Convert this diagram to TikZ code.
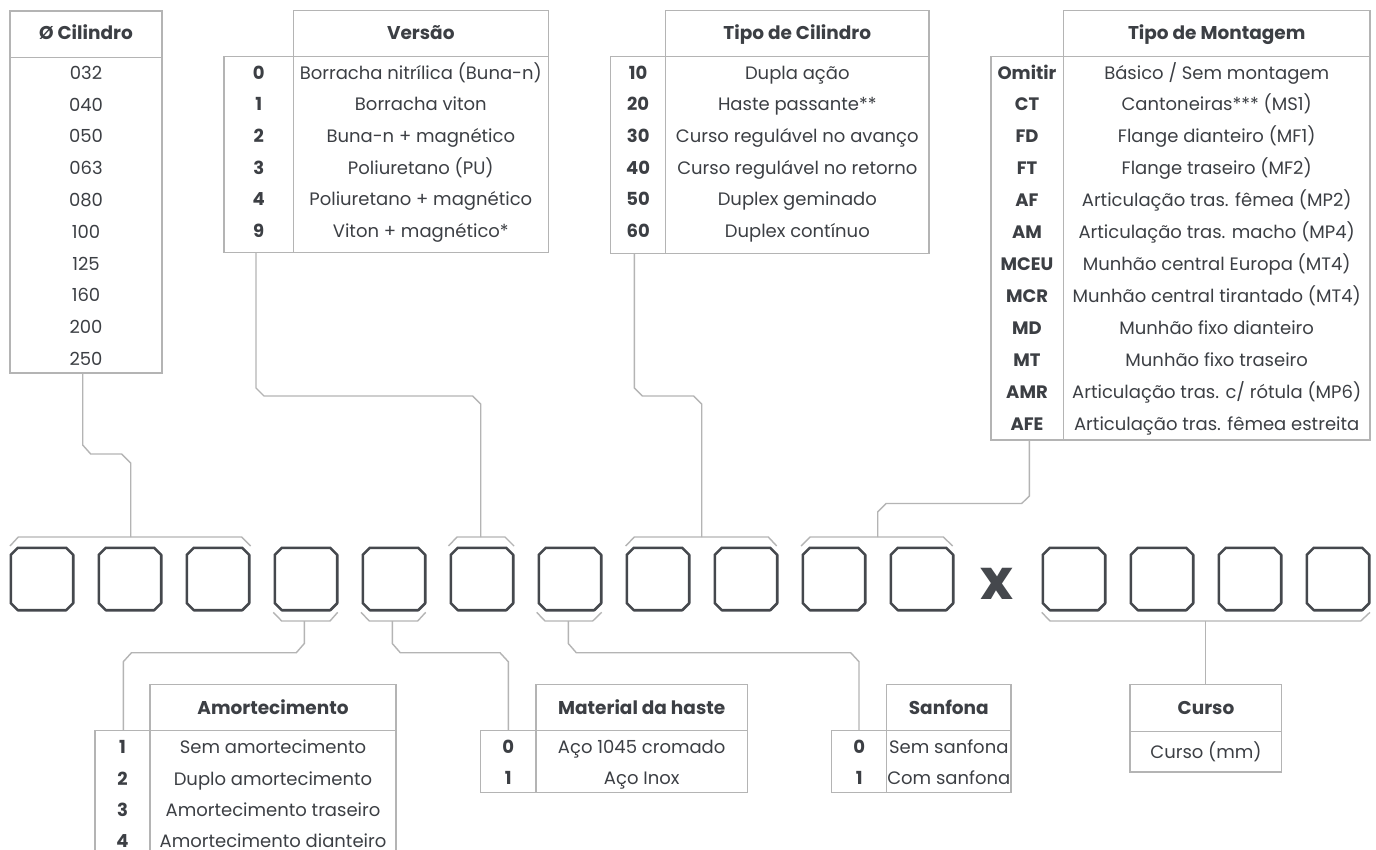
\documentclass[tikz,border=0pt]{standalone}
\usepackage{fontspec}
\setmainfont{Poppins}
\definecolor{txt}{HTML}{3C3F44}
\definecolor{tl}{HTML}{B4B4B4}
\definecolor{bx}{HTML}{45484D}
\newcommand\trow[6]{\node[num] (#1n) at (#2,#4+6.3) {#5};\node[cell] (#1t) at (#3,#4+6.3) {#6};}
\begin{document}
\begin{tikzpicture}[x=1pt,y=-1pt,
 tline/.style={draw=tl,line width=1.4pt},
 conn/.style={draw=tl,line width=1.4pt},
 cell/.style={anchor=base,inner sep=0pt,text=txt,font=\fontsize{18}{20}\selectfont},
 num/.style={cell,font=\fontsize{18}{20}\selectfont\bfseries},
 head/.style={cell,font=\fontsize{18.5}{20}\selectfont\bfseries},
 codebox/.style={rectangle, minimum width=62pt, minimum height=62pt, inner sep=0pt},
 boxline/.style={draw=bx, line width=2.6pt, line join=round}]
\useasboundingbox (0,0) rectangle (1376,849);
\clip (0,0) rectangle (1376,849);
\fill[white] (0,0) rectangle (1376,849);

% ---- code boxes ----
\foreach \i/\x in {1/42,2/130,3/218,4/306,5/394,6/482,7/570,8/658,9/746,10/834,11/922,12/1074,13/1162,14/1250,15/1338}{
  \node[codebox] (b\i) at (\x,579) {};
  \draw[boxline] ([xshift=7pt]b\i.north west) -- ([xshift=-7pt]b\i.north east) -- ([yshift=-7pt]b\i.north east) -- ([yshift=7pt]b\i.south east) -- ([xshift=-7pt]b\i.south east) -- ([xshift=7pt]b\i.south west) -- ([yshift=7pt]b\i.south west) -- ([yshift=-7pt]b\i.north west) -- cycle;
}
\node[anchor=center,inner sep=0pt,text=bx,font=\fontsize{56}{56}\selectfont\bfseries] (xmark) at (997,584) {x};

% ---- Ø Cilindro ----
\draw[tline] (10,11) rectangle (162,373);
\draw[tline] (10,57.5) -- (162,57.5);
\node[head] (hcil) at (86,39.5) {Ø Cilindro};
\foreach \v [count=\i from 0] in {032,040,050,063,080,100,125,160,200,250}
  \node[cell] (cil\i) at (86,73+31.8*\i+6.3) {\v};
\coordinate (cilB) at (82.7,373);

% ---- Versão ----
\draw[tline] (293.3,10.7) rectangle (548.3,252.7);
\draw[tline] (224,56.7) rectangle (293.3,252.7);
\draw[tline] (293.3,56.7) -- (548.3,56.7);
\node[head] (hver) at (420.8,39.5) {Versão};
\trow{v0}{258.7}{420.8}{72.7}{0}{Borracha nitrílica (Buna-n)}
\trow{v1}{258.7}{420.8}{104.4}{1}{Borracha viton}
\trow{v2}{258.7}{420.8}{136.1}{2}{Buna-n + magnético}
\trow{v3}{258.7}{420.8}{167.8}{3}{Poliuretano (PU)}
\trow{v4}{258.7}{420.8}{199.5}{4}{Poliuretano + magnético}
\trow{v9}{258.7}{420.8}{231.2}{9}{Viton + magnético*}
\coordinate (verB) at (256,252.7);

% ---- Tipo de Cilindro ----
\draw[tline] (665.7,10.7) rectangle (929,253.3);
\draw[tline] (610.7,56.7) rectangle (665.7,253.3);
\draw[tline] (665.7,56.7) -- (929,56.7);
\node[head] (htc) at (797.3,39.5) {Tipo de Cilindro};
\trow{t1}{638.2}{797.3}{72.7}{10}{Dupla ação}
\trow{t2}{638.2}{797.3}{104.4}{20}{Haste passante**}
\trow{t3}{638.2}{797.3}{136.1}{30}{Curso regulável no avanço}
\trow{t4}{638.2}{797.3}{167.8}{40}{Curso regulável no retorno}
\trow{t5}{638.2}{797.3}{199.5}{50}{Duplex geminado}
\trow{t6}{638.2}{797.3}{231.2}{60}{Duplex contínuo}
\coordinate (tcB) at (634.3,253.3);

% ---- Tipo de Montagem ----
\draw[tline] (1063.3,10.7) rectangle (1370,440);
\draw[tline] (991,56.7) rectangle (1063.3,440);
\draw[tline] (1063.3,56.7) -- (1370,56.7);
\node[head] (htm) at (1216.7,39.5) {Tipo de Montagem};
\trow{m1}{1027}{1216.7}{72.7}{Omitir}{Básico / Sem montagem}
\trow{m2}{1027}{1216.7}{104.6}{CT}{Cantoneiras*** (MS1)}
\trow{m3}{1027}{1216.7}{136.6}{FD}{Flange dianteiro (MF1)}
\trow{m4}{1027}{1216.7}{168.5}{FT}{Flange traseiro (MF2)}
\trow{m5}{1027}{1216.7}{200.5}{AF}{Articulação tras. fêmea (MP2)}
\trow{m6}{1027}{1216.7}{232.4}{AM}{Articulação tras. macho (MP4)}
\trow{m7}{1027}{1216.7}{264.4}{MCEU}{Munhão central Europa (MT4)}
\trow{m8}{1027}{1216.7}{296.3}{MCR}{Munhão central tirantado (MT4)}
\trow{m9}{1027}{1216.7}{328.3}{MD}{Munhão fixo dianteiro}
\trow{m10}{1027}{1216.7}{360.2}{MT}{Munhão fixo traseiro}
\trow{m11}{1027}{1216.7}{392.2}{AMR}{Articulação tras. c/ rótula (MP6)}
\trow{m12}{1027}{1216.7}{424.1}{AFE}{Articulação tras. fêmea estreita}
\coordinate (tmB) at (1029.3,440);

% ---- Amortecimento ----
\draw[tline] (150,684.3) rectangle (396,880);
\draw[tline] (95,730.7) rectangle (150,880);
\draw[tline] (150,730.7) -- (396,730.7);
\node[head] (ham) at (273,714.8) {Amortecimento};
\trow{a1}{122.5}{273}{747.3}{1}{Sem amortecimento}
\trow{a2}{122.5}{273}{778.8}{2}{Duplo amortecimento}
\trow{a3}{122.5}{273}{810.3}{3}{Amortecimento traseiro}
\trow{a4}{122.5}{273}{841.5}{4}{Amortecimento dianteiro}
\coordinate (amT) at (123.3,730.7);

% ---- Material da haste ----
\draw[tline] (536,684.3) rectangle (747.3,792.3);
\draw[tline] (480.7,730.7) rectangle (536,792.3);
\draw[tline] (536,730.7) -- (747.3,730.7);
\node[head] (hma) at (641.7,714.8) {Material da haste};
\trow{h0}{508.3}{641.7}{746.7}{0}{Aço 1045 cromado}
\trow{h1}{508.3}{641.7}{777.7}{1}{Aço Inox}
\coordinate (maT) at (508.3,730.7);

% ---- Sanfona ----
\draw[tline] (886.7,684.3) rectangle (1011,792.3);
\draw[tline] (831.7,730.7) rectangle (886.7,792.3);
\draw[tline] (886.7,730.7) -- (1011,730.7);
\node[head] (hsa) at (948.8,714.8) {Sanfona};
\trow{s0}{859.2}{948.8}{746.7}{0}{Sem sanfona}
\trow{s1}{859.2}{948.8}{777.7}{1}{Com sanfona}
\coordinate (saT) at (859,730.7);

% ---- Curso ----
\draw[tline] (1130,684.3) rectangle (1281.7,772);
\draw[tline] (1130,731.7) -- (1281.7,731.7);
\node[head] (hcu) at (1206,714) {Curso};
\node[cell] (cu) at (1206,752+6.3) {Curso (mm)};
\coordinate (cuT) at (1205.7,684.3);

% ---- top brackets ----
\draw[conn] (10,546) -- (18.3,537) -- (241.7,537) -- (250.7,546);
\draw[conn] (448.5,546) -- (457,537) -- (505,537) -- (514,546);
\draw[conn] (625.7,546) -- (634.3,537) -- (768.3,537) -- (776.7,546);
\draw[conn] (801,546) -- (810,537) -- (943.3,537) -- (952.7,546);
\coordinate (brCil) at (130.7,537);
\coordinate (brVer) at (480.7,537);
\coordinate (brTc) at (701.7,537);
\coordinate (brTm) at (877.7,537);

\draw[conn] (cilB) -- (82.7,445) -- (90.7,454) -- (121.7,454) -- (130.7,463) -- (brCil);
\draw[conn] (verB) -- (256,388) -- (264,396) -- (472.7,396) -- (480.7,404) -- (brVer);
\draw[conn] (tcB) -- (634.3,388) -- (642.3,396) -- (693.7,396) -- (701.7,404) -- (brTc);
\draw[conn] (tmB) -- (1029.3,496) -- (1021.7,503.5) -- (886,503.5) -- (877.7,512) -- (brTm);

% ---- bottom brackets ----
\draw[conn] (273.3,612.3) -- (281.7,621) -- (330,621) -- (337.7,612.3);
\draw[conn] (361,612.3) -- (369.3,621) -- (417.7,621) -- (425.7,612.3);
\draw[conn] (536.7,612.3) -- (545,621) -- (592.7,621) -- (601.7,612.3);
\draw[conn] (1041.7,612.3) -- (1050,621) -- (1360.7,621) -- (1370,612.3);
\coordinate (brAm) at (304.3,621);
\coordinate (brMa) at (392.3,621);
\coordinate (brSa) at (568.3,621);
\coordinate (brCu) at (1205.7,621);

\draw[conn] (brAm) -- (304.3,643.5) -- (296.3,652.7) -- (131.5,652.7) -- (123.3,661.7) -- (amT);
\draw[conn] (brMa) -- (392.3,643.5) -- (400.3,652.7) -- (500,652.7) -- (508.3,661.7) -- (maT);
\draw[conn] (brSa) -- (568.3,643.5) -- (576.3,652.7) -- (850.7,652.7) -- (859,661.7) -- (saT);
\draw[conn] (brCu) -- (cuT);
\end{tikzpicture}
\end{document}
